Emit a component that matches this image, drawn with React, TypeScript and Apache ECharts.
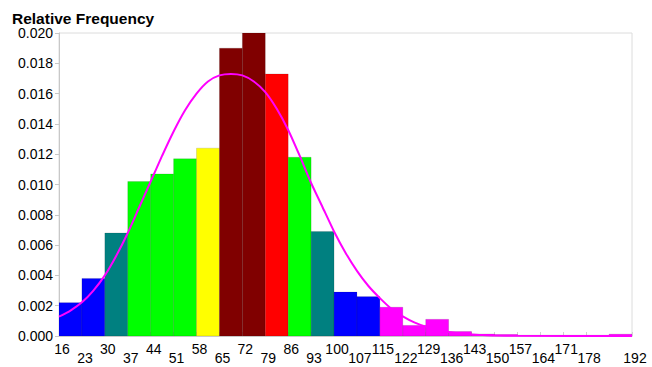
import React, { useEffect, useRef } from "react";
import * as echarts from "echarts";

const tickLabels = ["16","23","30","37","44","51","58","65","72","79","86","93","100","107","115","122","129","136","143","150","157","164","171","178","185","192"];

const binValues = [0.0022, 0.0038, 0.0068, 0.0102, 0.0107, 0.0117, 0.0124, 0.0190, 0.0200, 0.0173, 0.0118, 0.0069, 0.0029, 0.0026, 0.0019, 0.0007, 0.0011, 0.0003, 0.00013, 0.0001, 0.00005, 0.00005, 0.00005, 0.00005, 0.00012];

const binColors = ["#0000ff","#0000ff","#008080","#00ff00","#00ff00","#00ff00","#ffff00","#800000","#800000","#ff0000","#00ff00","#008080","#0000ff","#0000ff","#ff00ff","#ff00ff","#ff00ff","#ff00ff","#ff00ff","#ff00ff","#ff00ff","#ff00ff","#ff00ff","#ff00ff","#ff00ff"];

const curveX = [16, 19.52, 23.04, 26.56, 30.08, 33.6, 37.12, 40.64, 44.16, 47.68, 51.2, 54.72, 58.24, 61.76, 65.28, 68.8, 72.32, 75.84, 79.36, 82.88, 86.4, 89.92, 93.44, 96.96, 100.48, 104, 107.52, 111.04, 114.56, 118.08, 121.6, 125.12, 128.64, 132.16, 135.68, 139.2, 142.72, 146.24, 149.76, 157, 192];
const curveY = [0.00128, 0.00168, 0.00222, 0.003, 0.004, 0.0053, 0.0068, 0.0085, 0.0102, 0.0119, 0.0135, 0.0149, 0.016, 0.0168, 0.0172, 0.0173, 0.0172, 0.0168, 0.0161, 0.015, 0.0136, 0.0119, 0.0101, 0.0085, 0.0069, 0.0055, 0.0043, 0.0033, 0.0025, 0.0018, 0.0013, 0.0009, 0.00062, 0.00042, 0.00027, 0.00017, 0.0001, 0.00006, 0.00003, 0.00001, 0];

const FONT = "'Liberation Sans', Arial, sans-serif";

export default function App() {
  const ref = useRef<HTMLDivElement>(null);
  useEffect(() => {
    document.body.style.margin = "0";
    const chart = echarts.init(ref.current!, null, { renderer: "svg" });
    chart.setOption({
      animation: false,
      backgroundColor: "#ffffff",
      title: {
        text: "Relative Frequency",
        left: 12,
        top: 11,
        padding: 0,
        textStyle: { fontFamily: FONT, fontSize: 15.5, lineHeight: 14, fontWeight: "bold", color: "#000" },
      },
      grid: { left: 59, right: 20, top: 33, bottom: 31, show: true, borderColor: "#dcdcdc", borderWidth: 1 },
      xAxis: [
        {
          type: "value",
          min: 0,
          max: 25,
          interval: 1,
          axisLine: { show: true, lineStyle: { color: "#c8c8c8" } },
          axisTick: { show: true, inside: true, length: 4, lineStyle: { color: "#d0d0d0" } },
          splitLine: { show: false },
          axisLabel: {
            margin: 6,
            showMinLabel: true,
            showMaxLabel: true,
            hideOverlap: false,
            fontFamily: FONT,
            fontSize: 14,
            color: "#000",
            formatter: (v: number) => {
              const i = Math.round(v);
              const lab = tickLabels[i];
              return i % 2 === 0 ? `{t|${lab}}` : `{b|${lab}}`;
            },
            rich: {
              t: { fontFamily: FONT, fontSize: 14, color: "#000", padding: [0, 0, 0, 6] },
              b: { fontFamily: FONT, fontSize: 14, color: "#000", padding: [9, 0, 0, 6] },
            },
          },
        },
        { type: "value", min: 16, max: 192, show: false },
      ],
      yAxis: {
        type: "value",
        min: 0,
        max: 0.02,
        interval: 0.002,
        axisLine: { show: true, lineStyle: { color: "#c8c8c8" } },
        axisTick: { show: true, length: 4, lineStyle: { color: "#c8c8c8" } },
        splitLine: { show: false },
        axisLabel: {
          margin: 6,
          fontFamily: FONT,
          fontSize: 14,
          lineHeight: 14,
          color: "#000",
          formatter: (v: number) => v.toFixed(3),
        },
      },
      series: [
        {
          type: "custom",
          xAxisIndex: 0,
          clip: true,
          data: binValues.map((v, i) => [i, v]),
          renderItem: (params: any, api: any) => {
            const i = api.value(0);
            const v = api.value(1);
            const p0 = api.coord([i, v]);
            const p1 = api.coord([i + 1, 0]);
            return {
              type: "rect",
              shape: { x: p0[0], y: p0[1], width: p1[0] - p0[0], height: p1[1] - p0[1] },
              style: { fill: binColors[i], stroke: "rgba(0,0,0,0.12)", lineWidth: 1 },
            };
          },
          z: 2,
        },
        {
          type: "line",
          xAxisIndex: 1,
          data: curveX.map((x, i) => [x, curveY[i]]),
          smooth: 0.2,
          symbol: "none",
          lineStyle: { color: "#ff00ff", width: 2 },
          z: 3,
        },
      ],
    });
    return () => chart.dispose();
  }, []);
  return <div ref={ref} style={{ width: 652, height: 367 }} />;
}
